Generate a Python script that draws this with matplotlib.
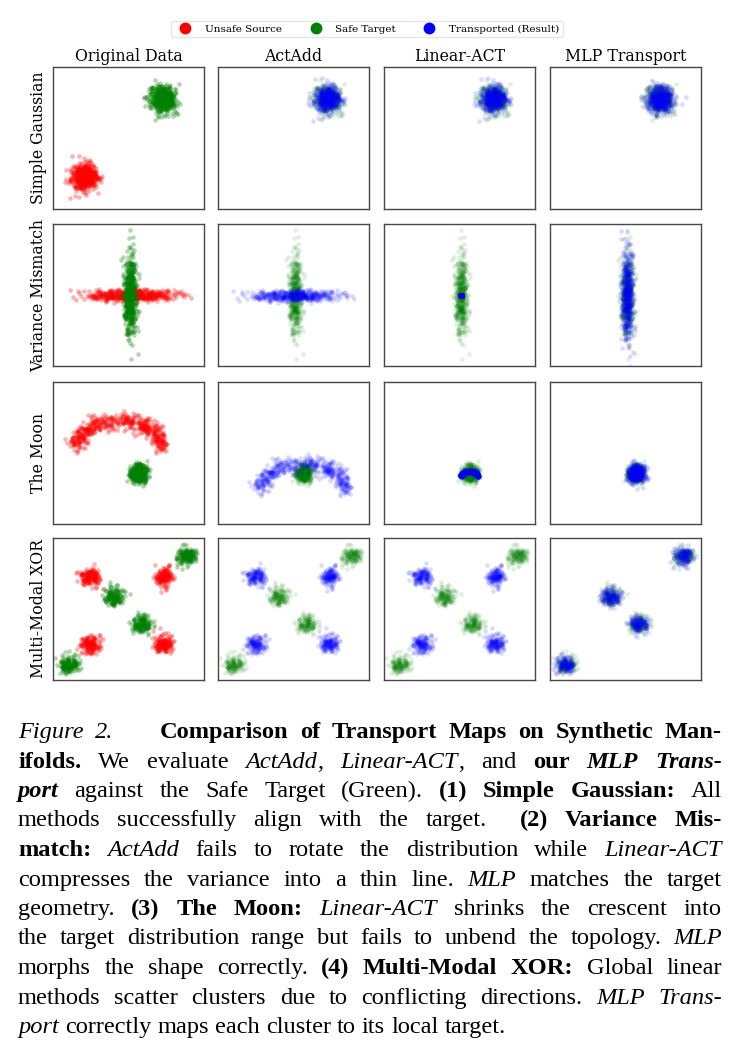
import re

import numpy as np
import matplotlib
matplotlib.use("Agg")
import matplotlib.pyplot as plt
from matplotlib.lines import Line2D

# ---------------------------------------------------------------------------
# chart data
COLUMNS = ["Original Data", "ActAdd", "Linear-ACT", "MLP Transport"]
ROWS = ["Simple Gaussian", "Variance Mismatch", "The Moon", "Multi-Modal XOR"]
LEGEND_LABELS = ["Unsafe Source", "Safe Target", "Transported (Result)"]

# (1) simple gaussian
GAUSS_SOURCE_MEAN = [-2.0, -2.0]
GAUSS_TARGET_MEAN = [2.0, 2.0]
GAUSS_STD = [0.33, 0.33]
GAUSS_N = 500

# (2) variance mismatch
VAR_MEAN = [0.0, 0.0]
VAR_SOURCE_STD = [3.0, 0.4]
VAR_TARGET_STD = [0.4, 3.0]
VAR_N = 500

# (3) moon: source crescent, target blob
MOON_CENTER = [0.0, 0.0]
MOON_RADII = [1.0, 0.61]
MOON_NOISE = 0.1
MOON_TARGET_MEAN = [0.49, -0.65]
MOON_TARGET_STD = [0.1, 0.1]
MOON_N = 500

# (4) multi-modal xor
XOR_SOURCE_CENTERS = [[-1.5, 1.5], [1.5, 1.5], [-1.5, -1.5], [1.5, -1.5]]
XOR_TARGET_CENTERS = [[-2.4, -2.4], [-0.55, 0.6], [0.6, -0.6], [2.45, 2.4]]
XOR_STD = 0.2
XOR_N_PER = 150

# per-axis shrink that Linear-ACT applies in each row
LINEAR_SCALE = [[1.0, 1.0], [0.02, 0.08], [0.2, 0.2], [1.0, 1.0]]

XLIMS = [(-3.6, 4.1), (-10.3, 9.9), (-1.56, 2.04), (-3.02, 3.17)]
YLIMS = [(-3.65, 3.65), (-10.0, 10.0), (-1.86, 1.52), (-3.08, 3.2)]

CAPTION = [
    "{i:Figure 2.}    {b:Comparison of Transport Maps on Synthetic Man-}",
    "{b:ifolds.} We evaluate {i:ActAdd}, {i:Linear-ACT}, and {b:our} {bi:MLP Trans-}",
    "{bi:port} against the Safe Target (Green). {b:(1) Simple Gaussian:} All",
    "methods successfully align with the target.  {b:(2) Variance Mis-}",
    "{b:match:} {i:ActAdd} fails to rotate the distribution while {i:Linear-ACT}",
    "compresses the variance into a thin line. {i:MLP} matches the target",
    "geometry. {b:(3) The Moon:} {i:Linear-ACT} shrinks the crescent into",
    "the target distribution range but fails to unbend the topology. {i:MLP}",
    "morphs the shape correctly. {b:(4) Multi-Modal XOR:} Global linear",
    "methods scatter clusters due to conflicting directions. {i:MLP Trans-}",
    "{i:port} correctly maps each cluster to its local target.",
]

# ---------------------------------------------------------------------------
W, H = 739, 1060
plt.rcParams.update({
    "font.family": "DejaVu Serif",
    "axes.edgecolor": "0.28",
    "axes.linewidth": 1.0,
})

rng = np.random.default_rng(3)


def gauss(mean, std, n):
    return rng.normal(mean, std, size=(n, 2))


def moon(n):
    t = rng.uniform(0, np.pi, n)
    pts = np.column_stack([MOON_CENTER[0] + MOON_RADII[0] * np.cos(t),
                           MOON_CENTER[1] + MOON_RADII[1] * np.sin(t)])
    return pts + rng.normal(0, MOON_NOISE, size=pts.shape)


def mixture(centers, std, n_per):
    return np.vstack([gauss(c, std, n_per) for c in centers])


def target_sampler(i):
    return [lambda: gauss(GAUSS_TARGET_MEAN, GAUSS_STD, GAUSS_N),
            lambda: gauss(VAR_MEAN, VAR_TARGET_STD, VAR_N),
            lambda: gauss(MOON_TARGET_MEAN, MOON_TARGET_STD, MOON_N),
            lambda: mixture(XOR_TARGET_CENTERS, XOR_STD, XOR_N_PER)][i]


sources = [gauss(GAUSS_SOURCE_MEAN, GAUSS_STD, GAUSS_N),
           gauss(VAR_MEAN, VAR_SOURCE_STD, VAR_N),
           moon(MOON_N),
           mixture(XOR_SOURCE_CENTERS, XOR_STD, XOR_N_PER)]

fig = plt.figure(figsize=(W / 100, H / 100), dpi=100)

col_left = [53, 218, 384, 550]
row_top = [67, 224, 382, 538]
pw, ph = 151, 142
pt = dict(s=11, linewidths=0)

for r in range(4):
    src = sources[r]
    tgt = target_sampler(r)()
    mu_s, mu_t = src.mean(0), tgt.mean(0)
    actadd = src - mu_s + mu_t
    linear = (src - mu_s) * np.array(LINEAR_SCALE[r]) + mu_t
    mlp = target_sampler(r)()
    results = [None, actadd, linear, mlp]
    for c in range(4):
        ax = fig.add_axes([col_left[c] / W, 1 - (row_top[r] + ph) / H, pw / W, ph / H])
        if c == 0:
            ax.scatter(src[:, 0], src[:, 1], color="red", alpha=0.3, **pt)
            ax.scatter(tgt[:, 0], tgt[:, 1], color="green", alpha=0.3, **pt)
        else:
            res = results[c]
            ax.scatter(tgt[:, 0], tgt[:, 1], color="green", alpha=0.12, **pt)
            ax.scatter(res[:, 0], res[:, 1], color="blue", alpha=0.14, **pt)
        ax.set_xlim(XLIMS[r])
        ax.set_ylim(YLIMS[r])
        ax.set_xticks([])
        ax.set_yticks([])
        if r == 0:
            ax.set_title(COLUMNS[c], fontsize=11.3, pad=4)
        if c == 0:
            ax.set_ylabel(ROWS[r], fontsize=11.3, labelpad=4)

handles = [Line2D([], [], marker="o", ls="", color=col, markersize=7.5, label=lab)
           for col, lab in zip(["red", "green", "blue"], LEGEND_LABELS)]
fig.legend(handles=handles, loc="center", bbox_to_anchor=(0.497, 1 - 29 / H),
           ncol=3, fontsize=7.5, frameon=True, edgecolor="0.88",
           handletextpad=0.9, columnspacing=2.2, borderpad=0.35)

# ---------------------------------------------------------------------------
# justified caption, one word at a time
STYLES = {"n": ("normal", "normal"), "b": ("bold", "normal"),
          "i": ("normal", "italic"), "bi": ("bold", "italic")}
CAP_FONT = "Liberation Serif"
CAP_SIZE = 17.6
CAP_LEFT, CAP_RIGHT = 18, 722
CAP_BASE, CAP_STEP = 738, 29.5


def parse(line):
    segs, pos = [], 0
    for m in re.finditer(r"\{(bi|b|i):([^}]*)\}", line):
        if m.start() > pos:
            segs.append((line[pos:m.start()], "n"))
        segs.append((m.group(2), m.group(1)))
        pos = m.end()
    if pos < len(line):
        segs.append((line[pos:], "n"))
    words = [[]]
    for text, st in segs:
        for k, part in enumerate(text.split(" ")):
            if k > 0:
                words.append([])
            if part:
                words[-1].append((part, st))
    return words


renderer = fig.canvas.get_renderer()
for li, line in enumerate(CAPTION):
    words = parse(line)
    # whole-pixel baselines so every word on a line snaps the same way
    y = 1 - round(CAP_BASE + li * CAP_STEP) / H
    placed = []
    for word in words:
        pieces = []
        for part, st in word:
            wt, sl = STYLES[st]
            t = fig.text(0, y, part, fontfamily=CAP_FONT, fontsize=CAP_SIZE,
                         fontweight=wt, fontstyle=sl, va="baseline", ha="left")
            pieces.append((t, t.get_window_extent(renderer).width))
        placed.append(pieces)
    widths = [sum(w for _, w in p) for p in placed]
    n_gaps = len(placed) - 1
    if li < len(CAPTION) - 1:
        gap = (CAP_RIGHT - CAP_LEFT - sum(widths)) / n_gaps
    else:
        gap = CAP_SIZE * 100 / 72 * 0.25
    x = CAP_LEFT
    for pieces, wsum in zip(placed, widths):
        xx = x
        for t, w in pieces:
            t.set_x(xx / W)
            xx += w
        x += wsum + gap

fig.savefig("out.png", dpi=100)
